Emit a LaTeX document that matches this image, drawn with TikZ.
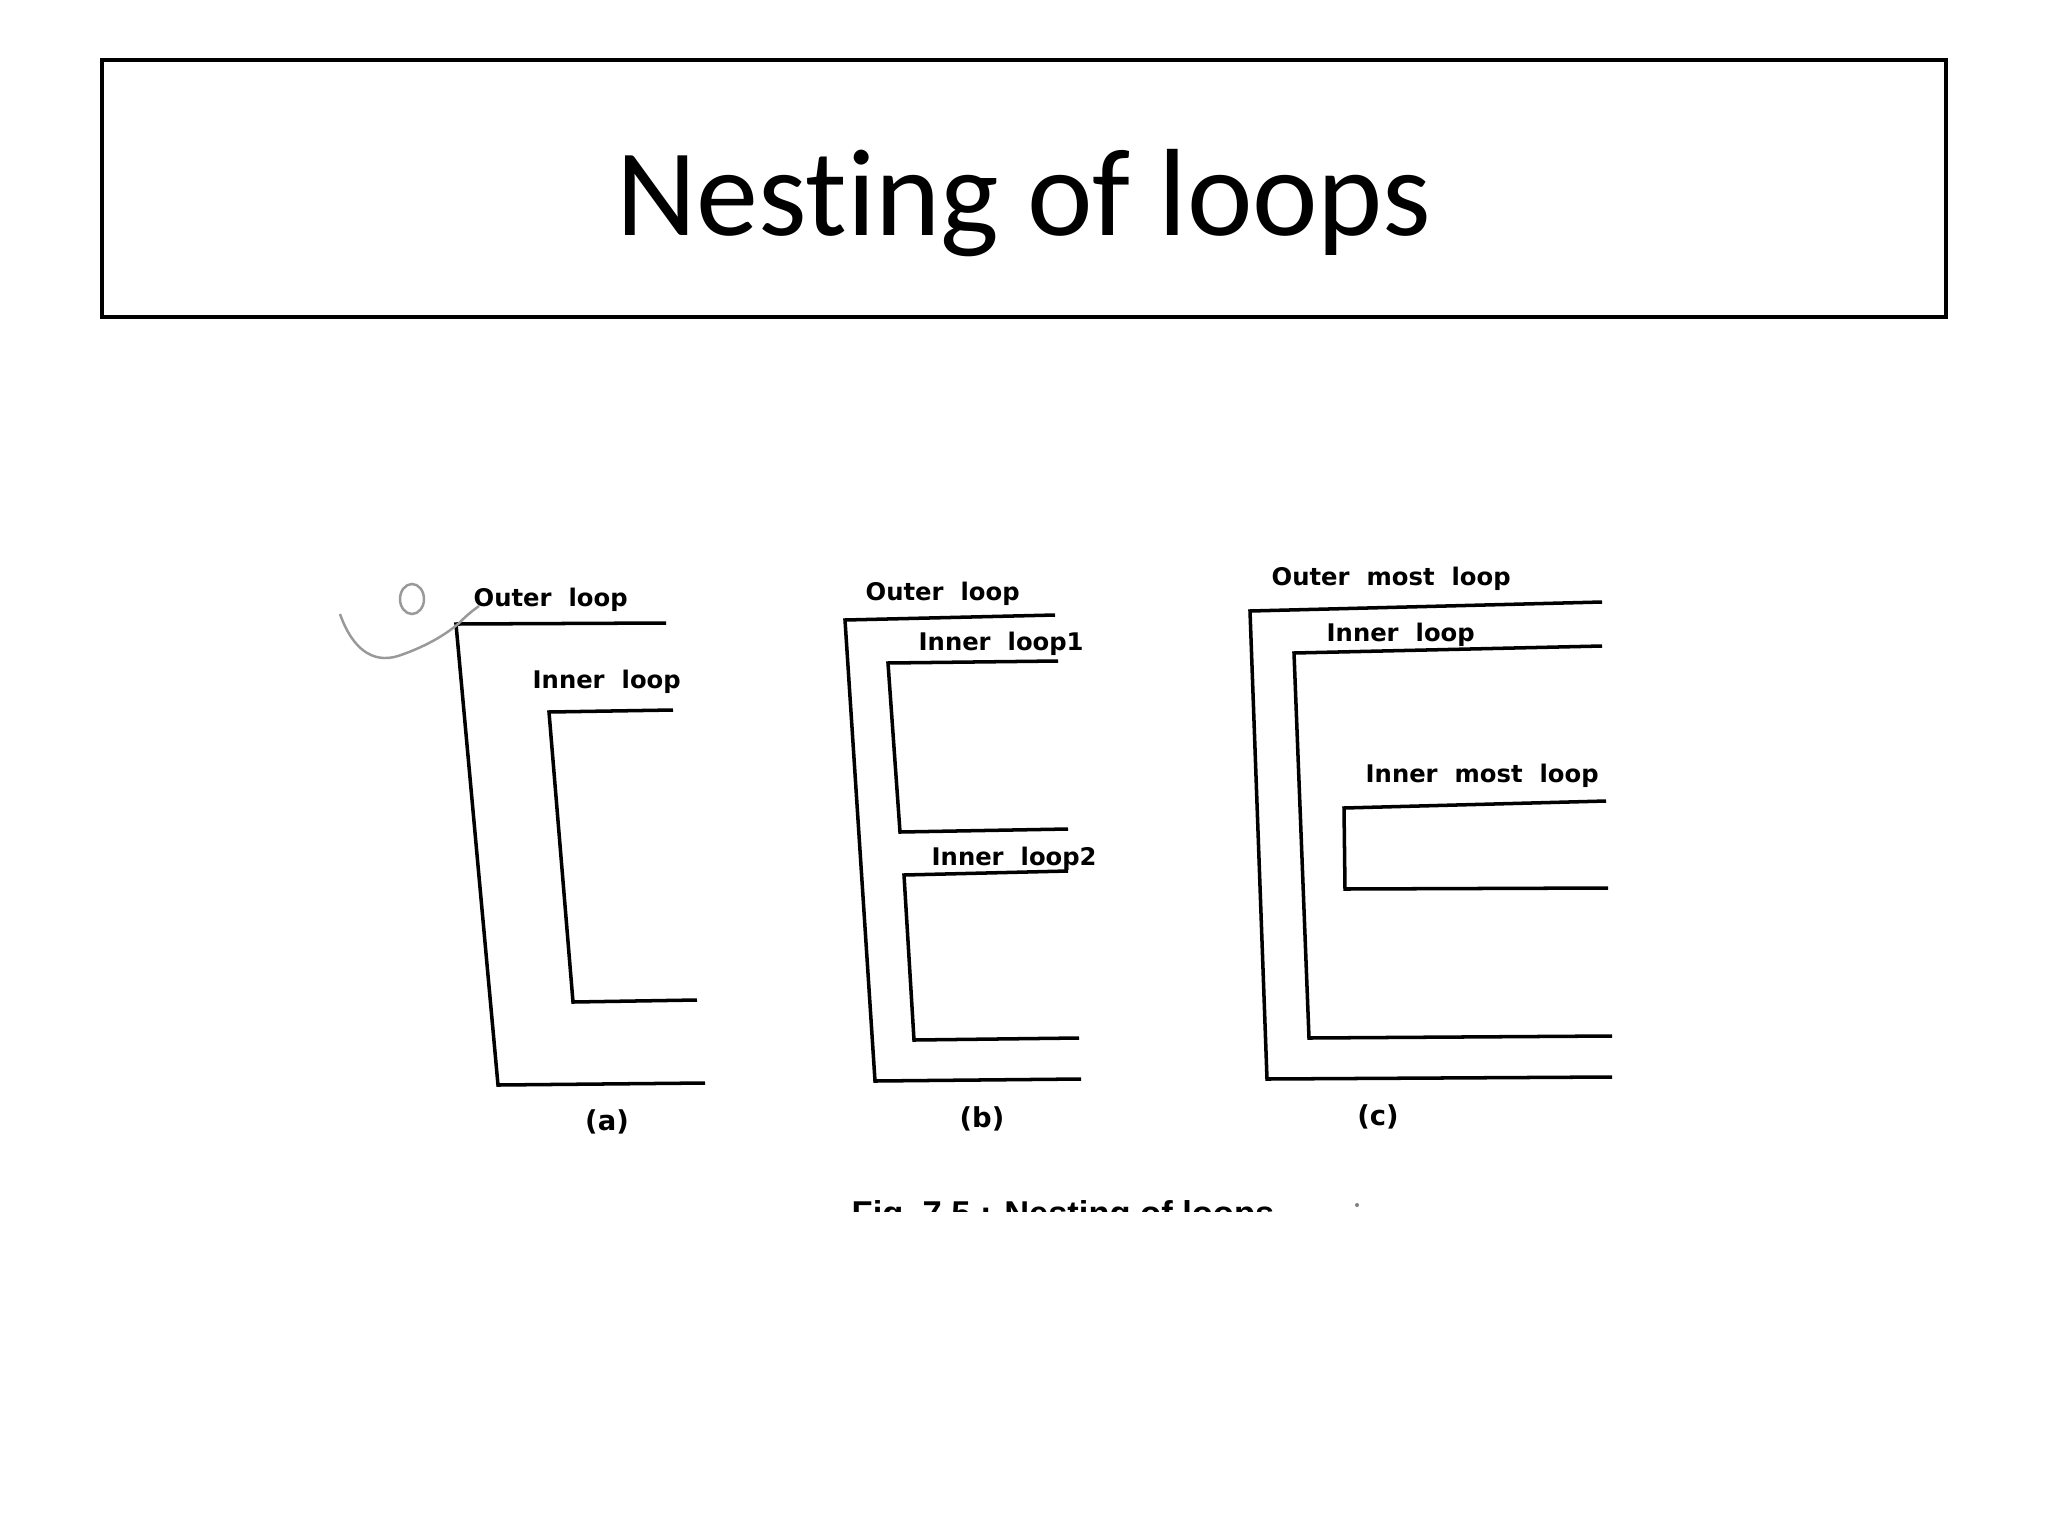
\documentclass[tikz,border=0pt]{standalone}
\usepackage{fontspec}
\setmainfont{Carlito}[Ligatures=NoCommon]
\newfontfamily\lblfam{DejaVu Sans}
\newfontfamily\capfam{Liberation Sans}
\newcommand\lblfont{\lblfam\bfseries\fontsize{6.9pt}{8pt}\selectfont\spaceskip=0.7em\relax}
\newcommand\subfont{\lblfam\bfseries\fontsize{7.8pt}{9pt}\selectfont}
\begin{document}
\begin{tikzpicture}[x=0.01cm,y=-0.01cm,
  loopline/.style={line width=1pt, black, line join=miter},
  lbl/.style={font=\lblfont, inner sep=0pt, anchor=base west},
  sublbl/.style={font=\subfont, inner sep=0pt, anchor=center},
  framebox/.style={draw, line width=1.1pt},
  scrib/.style={draw=gray!80, line width=0.7pt}]
\useasboundingbox[fill=white] (0,0) rectangle (2048,1536);

% title
\draw[framebox] (102,60) rectangle (1946,317);
\node (title) at (1024,235) [anchor=base, inner sep=0pt, font=\fontsize{35.3pt}{40pt}\selectfont] {Nesting of loops};

% (a)
\draw[loopline] (666,623) -- (456,624) -- (498,1085) -- (705,1083);
\draw[loopline] (673,710) -- (549,712) -- (573,1002) -- (697,1000);
\node[lbl] (aout) at (473,606) {Outer loop};
\node[lbl] (ain) at (532,688) {Inner loop};
\node[sublbl] (acap) at (607,1122) {(a)};
\draw[scrib] (412,599) ellipse (12 and 15);
\draw[scrib] (340,614) .. controls (352,648) and (372,664) .. (398,656)
  .. controls (425,647) and (445,635) .. (458,624)
  .. controls (466,616) and (472,611) .. (479,606);

% (b)
\draw[loopline] (1055,615) -- (845,620) -- (875,1081) -- (1081,1079);
\draw[loopline] (1058,661) -- (888,663) -- (900,832) -- (1068,829);
\draw[loopline] (1068,871) -- (904,875) -- (914,1040) -- (1079,1038);
\node[lbl] (bout) at (865,600) {Outer loop};
\node[lbl] (bin1) at (918,650) {Inner loop1};
\node[lbl] (bin2) at (931,865) {Inner loop2};
\node[sublbl] (bcap) at (982,1119) {(b)};

% (c)
\draw[loopline] (1602,602) -- (1250,611) -- (1267,1079) -- (1612,1077);
\draw[loopline] (1602,646) -- (1294,653) -- (1309,1038) -- (1612,1036);
\draw[loopline] (1606,801) -- (1344,808) -- (1345,889) -- (1608,888);
\node[lbl] (cout) at (1271,585) {Outer most loop};
\node[lbl] (cin) at (1326,641) {Inner loop};
\node[lbl] (cinm) at (1365,782) {Inner most loop};
\node[sublbl] (ccap) at (1378,1117) {(c)};

% clipped caption
\begin{scope}
\clip (800,1150) rectangle (1420,1211);
\node (caption) [anchor=base west, inner sep=0pt, font=\capfam\bfseries\fontsize{9.8pt}{12pt}\selectfont] at (851,1225) {Fig.\ 7.5 : Nesting of loops};
\fill[gray] (1357,1205) circle (2);
\end{scope}
\end{tikzpicture}
\end{document}
